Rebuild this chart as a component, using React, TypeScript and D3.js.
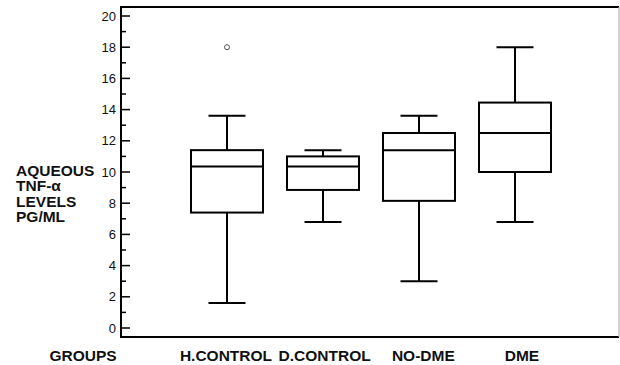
import React from 'react';
import * as d3 from 'd3';

const groups = ['H.CONTROL', 'D.CONTROL', 'NO-DME', 'DME'];
const mins = [1.6, 6.8, 3.0, 6.8];
const q1s = [7.4, 8.85, 8.15, 10.0];
const medians = [10.35, 10.35, 11.4, 12.5];
const q3s = [11.4, 11.0, 12.5, 14.45];
const maxs = [13.6, 11.4, 13.6, 18.0];
const outliers = [{ group: 'H.CONTROL', value: 18 }];
const yTicks = [0, 2, 4, 6, 8, 10, 12, 14, 16, 18, 20];
const yMinorTicks = [1, 3, 5, 7, 9, 11, 13, 15, 17, 19];
const yLabelLines = ['AQUEOUS', 'TNF-α', 'LEVELS', 'PG/ML'];

const width = 620;
const height = 365;
const left = 121;
const right = 619;
const top = 7;
const bottom = 337;
const boxW = 72;
const capW = 37;
const font = "'Liberation Sans', Arial, sans-serif";

export default function App() {
    const y = d3.scaleLinear([-0.577, 20.577], [bottom, top]);
    const x = d3.scalePoint(groups, [227, 515]);
    // category labels sit a little off the box centres in the original
    const xLabel = d3.scalePoint(groups, [226, 522]);

    const boxes = groups.map((g, i) => ({
        g, min: mins[i], q1: q1s[i], med: medians[i], q3: q3s[i], max: maxs[i]
    }));

    return (
        <svg width={width} height={height} style={{ position: 'absolute', left: 0, top: 0, background: '#fff' }}
            fontFamily={font}>
            {/* frame */}
            <line x1={left} x2={right} y1={top} y2={top} stroke="#000" strokeWidth={2} />
            <line x1={left} x2={right} y1={bottom} y2={bottom} stroke="#000" strokeWidth={2} />
            <line x1={right} x2={right} y1={top} y2={bottom} stroke="#aaa" strokeWidth={1} />
            <line x1={left} x2={left} y1={top - 1} y2={bottom + 1} stroke="#000" strokeWidth={2} />

            {/* y axis */}
            {yTicks.map(t => (
                <g key={t} transform={`translate(0,${y(t)})`}>
                    <line x1={left} x2={left + 9} stroke="#000" strokeWidth={1.5} />
                    <text x={left - 5} dy="0.36em" textAnchor="end" fontSize={13} fill="#111">{t}</text>
                </g>
            ))}
            {yMinorTicks.map(t => (
                <line key={t} x1={left} x2={left + 5} y1={y(t)} y2={y(t)} stroke="#000" strokeWidth={1.5} />
            ))}

            {yLabelLines.map((s, i) => (
                <text key={s} x={16} y={175.5 + i * 15.5} fontSize={15.5} fontWeight="bold" fill="#111">{s}</text>
            ))}

            {/* boxes */}
            {boxes.map(b => {
                const cx = x(b.g)!;
                return (
                    <g key={b.g} stroke="#000" strokeWidth={2} fill="none">
                        <line x1={cx} x2={cx} y1={y(b.max)} y2={y(b.q3)} />
                        <line x1={cx} x2={cx} y1={y(b.q1)} y2={y(b.min)} />
                        <line x1={cx - capW / 2} x2={cx + capW / 2} y1={y(b.max)} y2={y(b.max)} />
                        <line x1={cx - capW / 2} x2={cx + capW / 2} y1={y(b.min)} y2={y(b.min)} />
                        <rect x={cx - boxW / 2} y={y(b.q3)} width={boxW} height={y(b.q1) - y(b.q3)} />
                        <line x1={cx - boxW / 2} x2={cx + boxW / 2} y1={y(b.med)} y2={y(b.med)} />
                    </g>
                );
            })}
            {outliers.map((o, i) => (
                <circle key={i} cx={x(o.group)!} cy={y(o.value)} r={2.5} fill="#fff" stroke="#555" strokeWidth={1} />
            ))}

            {/* x labels */}
            <text x={83} y={361} textAnchor="middle" fontSize={15.5} fontWeight="bold" fill="#111">GROUPS</text>
            {groups.map(g => (
                <text key={g} x={xLabel(g)!} y={361} textAnchor="middle" fontSize={15.5} fontWeight="bold" fill="#111">{g}</text>
            ))}
        </svg>
    );
}
